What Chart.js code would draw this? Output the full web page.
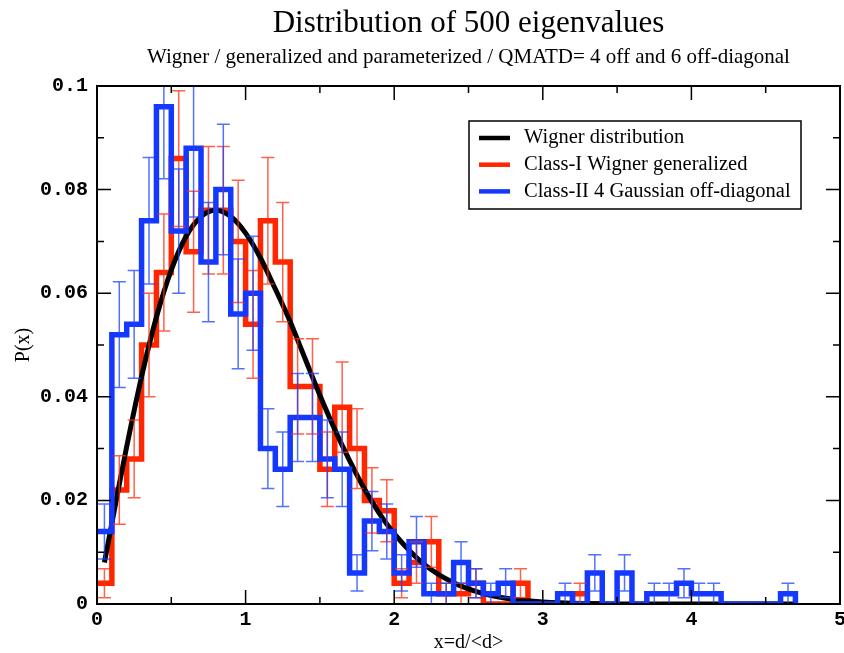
<!DOCTYPE html>
<html>
<head>
<meta charset="utf-8">
<script src="https://cdn.jsdelivr.net/npm/chart.js@4.4.1/dist/chart.umd.min.js"></script>
<style>
html, body { margin: 0; padding: 0; background: #fff; }
#wrap { width: 844px; height: 653px; }
</style>
</head>
<body>
<div id="wrap"><canvas id="eigChart" width="844" height="653"></canvas></div>
<script>
// histogram bins (width 0.1)
var binWidth = 0.1;
var binCenters = [0.05, 0.15, 0.25, 0.35, 0.45, 0.55, 0.65, 0.75, 0.85, 0.95,
                  1.05, 1.15, 1.25, 1.35, 1.45, 1.55, 1.65, 1.75, 1.85, 1.95,
                  2.05, 2.15, 2.25, 2.35, 2.45, 2.55, 2.65, 2.75, 2.85, 2.95,
                  3.05, 3.15, 3.25, 3.35, 3.45, 3.55, 3.65, 3.75, 3.85, 3.95,
                  4.05, 4.15, 4.25, 4.35, 4.45, 4.55, 4.65];

// Class-I (red)
var classOne = [0.004, 0.022, 0.028, 0.050, 0.064, 0.086, 0.068, 0.076, 0.076, 0.070,
                0.054, 0.074, 0.066, 0.042, 0.042, 0.026, 0.038, 0.030, 0.020, 0.018,
                0.004, 0.008, 0.012, 0.002, 0.002, 0.004, 0, 0, 0.004, 0,
                0, 0, 0.002, 0];
var classOneErr = [0.0028, 0.0066, 0.0075, 0.0100, 0.0113, 0.0131, 0.0117, 0.0123, 0.0123, 0.0118,
                   0.0104, 0.0122, 0.0115, 0.0092, 0.0092, 0.0072, 0.0087, 0.0077, 0.0063, 0.0060,
                   0.0028, 0.0040, 0.0049, 0.0020, 0.0020, 0.0028, 0, 0, 0.0028, 0,
                   0, 0, 0.0020, 0];

// Class-II (blue)
var classTwo = [0.014, 0.052, 0.054, 0.074, 0.096, 0.072, 0.088, 0.066, 0.080, 0.056,
                0.060, 0.030, 0.026, 0.036, 0.036, 0.028, 0.026, 0.006, 0.016, 0.014,
                0.006, 0.012, 0.002, 0.002, 0.008, 0.004, 0.002, 0.004, 0, 0,
                0, 0.002, 0, 0.006, 0, 0.006, 0, 0.002, 0.002, 0.004,
                0.002, 0.002, 0, 0, 0, 0, 0.002];
var classTwoErr = [0.0053, 0.0102, 0.0104, 0.0122, 0.0139, 0.0120, 0.0133, 0.0115, 0.0126, 0.0106,
                   0.0110, 0.0077, 0.0072, 0.0085, 0.0085, 0.0075, 0.0072, 0.0035, 0.0057, 0.0053,
                   0.0035, 0.0049, 0.0020, 0.0020, 0.0040, 0.0028, 0.0020, 0.0028, 0, 0,
                   0, 0.0020, 0, 0.0035, 0, 0.0035, 0, 0.0020, 0.0020, 0.0028,
                   0.0020, 0.0020, 0, 0, 0, 0, 0.0020];

// Wigner curve
var wignerX = [0.05, 0.1, 0.15, 0.2, 0.3, 0.4, 0.5, 0.6, 0.7, 0.8, 0.9, 1.0,
               1.1, 1.2, 1.3, 1.4, 1.5, 1.6, 1.7, 1.8, 1.9, 2.0,
               2.2, 2.4, 2.6, 2.8, 3.0, 3.3, 3.6, 4.7];
var wignerY = [0.0080, 0.0156, 0.0231, 0.0304, 0.0439, 0.0554, 0.0645, 0.0710, 0.0748, 0.0760, 0.0748, 0.0716,
               0.0668, 0.0608, 0.0545, 0.0474, 0.0403, 0.0337, 0.0277, 0.0222, 0.0175, 0.0136,
               0.0077, 0.0041, 0.0020, 0.0009, 0.0004, 0.0001, 0, 0];

var redColor = '#ff2600';
var blueColor = '#1538ff';

function stepPoints(vals) {
    var pts = vals.map(function (v, i) {
        return { x: binCenters[i] - binWidth / 2, y: v };
    });
    pts.push({ x: binCenters[vals.length - 1] + binWidth / 2, y: vals[vals.length - 1] });
    pts.push({ x: binCenters[vals.length - 1] + binWidth / 2, y: 0 });
    return pts;
}

var wignerPts = wignerX.map(function (x, i) { return { x: x, y: wignerY[i] }; });

var errorBarPlugin = {
    id: 'errorBars',
    afterDatasetsDraw: function (chart) {
        var ctx = chart.ctx, xs = chart.scales.x, ys = chart.scales.y, a = chart.chartArea;
        function drawErr(vals, errs, color) {
            ctx.strokeStyle = color;
            ctx.lineWidth = 1.5;
            for (var i = 0; i < vals.length; i++) {
                if (!errs[i]) continue;
                var px = xs.getPixelForValue(binCenters[i]);
                var top = ys.getPixelForValue(vals[i] + errs[i]);
                var bot = ys.getPixelForValue(Math.max(vals[i] - errs[i], 0));
                ctx.beginPath();
                ctx.moveTo(px, top); ctx.lineTo(px, bot);
                ctx.moveTo(px - 6.5, top); ctx.lineTo(px + 6.5, top);
                ctx.moveTo(px - 6.5, bot); ctx.lineTo(px + 6.5, bot);
                ctx.stroke();
            }
        }
        ctx.save();
        ctx.beginPath();
        ctx.rect(a.left, a.top, a.right - a.left, a.bottom - a.top);
        ctx.clip();
        drawErr(classOne, classOneErr, 'rgba(255,45,15,0.75)');
        drawErr(classTwo, classTwoErr, 'rgba(25,65,255,0.75)');
        ctx.restore();
    }
};

var framePlugin = {
    id: 'frame',
    afterDraw: function (chart) {
        var ctx = chart.ctx, xs = chart.scales.x, ys = chart.scales.y, a = chart.chartArea;
        ctx.save();
        ctx.strokeStyle = '#000';
        ctx.lineWidth = 1.5;
        ctx.beginPath();
        var v, p, len;
        for (v = 1; v < 10; v++) {
            p = ys.getPixelForValue(v / 100);
            len = (v % 2 === 0) ? 14 : 7;
            ctx.moveTo(a.left, p); ctx.lineTo(a.left + len, p);
            ctx.moveTo(a.right, p); ctx.lineTo(a.right - len, p);
        }
        for (v = 1; v < 10; v++) {
            p = xs.getPixelForValue(v / 2);
            len = (v % 2 === 0) ? 14 : 7;
            ctx.moveTo(p, a.bottom); ctx.lineTo(p, a.bottom - len);
            ctx.moveTo(p, a.top); ctx.lineTo(p, a.top + len);
        }
        ctx.stroke();
        ctx.lineWidth = 2;
        ctx.strokeRect(a.left, a.top, a.right - a.left, a.bottom - a.top);

        // legend box
        var lx = 469, ly = 121, lw = 332, lh = 88;
        ctx.fillStyle = '#fff';
        ctx.fillRect(lx, ly, lw, lh);
        ctx.lineWidth = 1.5;
        ctx.strokeRect(lx, ly, lw, lh);
        var order = [0, 1, 2];
        ctx.font = '20.5px "Liberation Serif", "Times New Roman", serif';
        ctx.textBaseline = 'middle';
        order.forEach(function (di, row) {
            var ds = chart.data.datasets[di];
            var y = ly + 17 + row * 26.7;
            ctx.strokeStyle = ds.borderColor;
            ctx.lineWidth = 4.5;
            ctx.beginPath();
            ctx.moveTo(lx + 10, y); ctx.lineTo(lx + 41, y);
            ctx.stroke();
            ctx.fillStyle = '#000';
            ctx.fillText(ds.label, lx + 55, y);
        });
        ctx.restore();
    }
};

var ctx = document.getElementById('eigChart').getContext('2d');
var chart_eig = new Chart(ctx, {
    type: 'line',
    data: {
        datasets: [{
            label: 'Wigner distribution',
            data: wignerPts,
            borderColor: '#000',
            borderWidth: 5,
            pointRadius: 0,
            fill: false,
            cubicInterpolationMode: 'monotone',
            order: 1
        }, {
            label: 'Class-I Wigner generalized',
            data: stepPoints(classOne),
            stepped: 'before',
            borderColor: redColor,
            borderWidth: 5.5,
            borderJoinStyle: 'miter',
            pointRadius: 0,
            fill: false,
            order: 2
        }, {
            label: 'Class-II 4 Gaussian off-diagonal',
            data: stepPoints(classTwo),
            stepped: 'before',
            borderColor: blueColor,
            borderWidth: 5.5,
            borderJoinStyle: 'miter',
            pointRadius: 0,
            fill: false,
            order: 0
        }]
    },
    options: {
        responsive: false,
        animation: false,
        devicePixelRatio: 1,
        layout: { padding: { left: 0, right: 4, top: 0, bottom: 0 } },
        plugins: {
            legend: { display: false },
            tooltip: { enabled: false },
            title: {
                display: true,
                text: 'Distribution of 500 eigenvalues',
                fullSize: false,
                color: '#000',
                font: { family: '"Liberation Serif", "Times New Roman", serif', size: 31, weight: 'normal' },
                padding: { top: 5, bottom: 0 }
            },
            subtitle: {
                display: true,
                text: 'Wigner / generalized and parameterized / QMATD= 4 off and 6 off-diagonal',
                fullSize: false,
                color: '#000',
                font: { family: '"Liberation Serif", "Times New Roman", serif', size: 21, weight: 'normal' },
                padding: { top: 3, bottom: 15.6 }
            }
        },
        scales: {
            x: {
                type: 'linear',
                min: 0,
                max: 5,
                grid: { display: false, drawTicks: false },
                border: { display: false },
                ticks: {
                    stepSize: 1,
                    padding: 4,
                    color: '#000',
                    maxRotation: 0,
                    font: { family: '"Liberation Mono", "Courier New", monospace', size: 20, weight: 'bold' }
                },
                title: {
                    display: true,
                    text: 'x=d/<d>',
                    color: '#000',
                    font: { family: '"Liberation Serif", "Times New Roman", serif', size: 20 },
                    padding: { top: 0, bottom: -2 }
                },
                afterFit: function (scale) {
                    scale.height = 49;
                    scale.paddingLeft = 0;
                    scale.paddingRight = 0;
                }
            },
            y: {
                min: 0,
                max: 0.1,
                grid: { display: false, drawTicks: false },
                border: { display: false },
                ticks: {
                    stepSize: 0.02,
                    padding: 9,
                    color: '#000',
                    font: { family: '"Liberation Mono", "Courier New", monospace', size: 20, weight: 'bold' },
                    callback: function (v) { return String(+v.toFixed(2)); }
                },
                title: {
                    display: true,
                    text: 'P(x)',
                    color: '#000',
                    font: { family: '"Liberation Serif", "Times New Roman", serif', size: 20 },
                    padding: { top: 12, bottom: 0 }
                },
                afterFit: function (scale) {
                    scale.width = 97;
                    scale.paddingTop = 0;
                    scale.paddingBottom = 0;
                }
            }
        }
    },
    plugins: [errorBarPlugin, framePlugin]
});
</script>
</body>
</html>
